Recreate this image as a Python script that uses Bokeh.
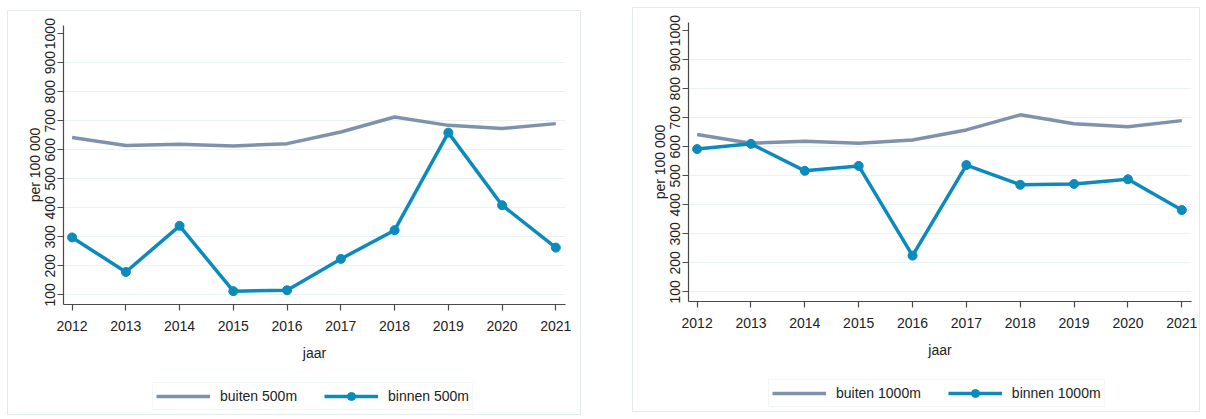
from bokeh.plotting import figure
from bokeh.models import Range1d, FixedTicker, Legend, LegendItem
from bokeh.layouts import row, column
from bokeh.embed import file_html
from bokeh.resources import INLINE

years = [2012, 2013, 2014, 2015, 2016, 2017, 2018, 2019, 2020, 2021]
buiten_500 = [642, 615, 619, 613, 621, 661, 713, 684, 673, 690]
binnen_500 = [298, 179, 338, 113, 116, 224, 323, 659, 409, 263]
buiten_1000 = [642, 612, 619, 612, 623, 658, 710, 679, 669, 690]
binnen_1000 = [592, 610, 517, 534, 225, 537, 469, 472, 488, 382]
y_ticks = [100, 200, 300, 400, 500, 600, 700, 800, 900, 1000]
grid_ticks = [100, 200, 300, 400, 500, 600, 700, 800, 900]

FONT = "Liberation Sans"
GRAY = "#7f92ab"
BLUE = "#0a8bbb"
TXT = "#222222"


def make_panel(buiten, binnen, lab_out, lab_in, width, bl, br, leg_x, margin):
    p = figure(width=width, height=357, output_backend="svg", toolbar_location=None,
               x_range=Range1d(2011.84, 2021.18), y_range=Range1d(67, 1028),
               min_border_left=bl, min_border_right=br, min_border_top=14, min_border_bottom=64)
    p.outline_line_color = None
    p.xgrid.visible = False
    p.ygrid.ticker = FixedTicker(ticks=grid_ticks)
    p.ygrid.grid_line_color = "#e9f1f2"
    p.ygrid.grid_line_width = 1.2

    for ax in (p.xaxis[0], p.yaxis[0]):
        ax.axis_line_color = "#4a4a4a"
        ax.axis_line_width = 1.2
        ax.major_tick_line_color = "#4a4a4a"
        ax.major_tick_line_width = 1.2
        ax.major_tick_in = 0
        ax.major_tick_out = 6
        ax.minor_tick_line_color = None
        ax.major_label_text_font = FONT
        ax.major_label_text_font_size = "14px"
        ax.major_label_text_color = TXT
        ax.axis_label_text_font = FONT
        ax.axis_label_text_font_size = "14px"
        ax.axis_label_text_font_style = "normal"
        ax.axis_label_text_color = TXT

    p.xaxis.ticker = FixedTicker(ticks=years)
    p.xaxis.axis_label = "jaar"
    p.xaxis.major_label_standoff = 10
    p.xaxis.axis_label_standoff = 11
    p.yaxis.ticker = FixedTicker(ticks=y_ticks)
    p.yaxis.major_label_orientation = "vertical"
    p.yaxis.axis_label = "per 100 000"
    p.yaxis.major_label_standoff = 2
    p.yaxis.axis_label_standoff = 0

    p.line(years, buiten, line_color=GRAY, line_width=3.5)
    p.line(years, binnen, line_color=BLUE, line_width=3.5)
    p.scatter(years, binnen, size=9, fill_color=BLUE, line_color=BLUE)

    # legend-only figure below the chart (its glyphs lie outside its visible range)
    q = figure(width=width, height=46, output_backend="svg", toolbar_location=None,
               x_range=Range1d(0, 1), y_range=Range1d(0, 1),
               x_axis_location=None, y_axis_location=None,
               min_border=0)
    q.outline_line_color = None
    q.grid.visible = False
    r1 = q.line(x=[5, 6], y=[5, 6], line_color=GRAY, line_width=3.5)
    r2 = q.line(x=[5, 6], y=[5, 6], line_color=BLUE, line_width=3.5)
    r3 = q.scatter(x=[5, 6], y=[5, 6], size=9, fill_color=BLUE, line_color=BLUE)
    leg = Legend(items=[LegendItem(label=lab_out, renderers=[r1]),
                        LegendItem(label=lab_in, renderers=[r2, r3])],
                 orientation="horizontal", location=(leg_x, 4))
    leg.label_text_font = FONT
    leg.label_text_font_size = "14px"
    leg.label_text_color = TXT
    leg.glyph_width = 54
    leg.glyph_height = 20
    leg.label_height = 20
    leg.padding = 3
    leg.spacing = 27
    leg.label_standoff = 10
    leg.border_line_color = "#e3eeee"
    leg.border_line_width = 1
    leg.background_fill_color = "white"
    leg.margin = 0
    q.add_layout(leg, "center")

    c = column(p, q, spacing=0)
    c.styles = {"border": "1px solid #e3eaec"}
    c.margin = margin
    return c


c1 = make_panel(buiten_500, binnen_500, "buiten 500m", "binnen 500m",
                572, 55, 15, 89, (10, 0, 0, 7))
c2 = make_panel(buiten_1000, binnen_1000, "buiten 1000m", "binnen 1000m",
                566, 55, 8, 80, (7, 0, 0, 51))

layout = row(c1, c2)
open("out.html", "w").write(file_html(layout, INLINE))
